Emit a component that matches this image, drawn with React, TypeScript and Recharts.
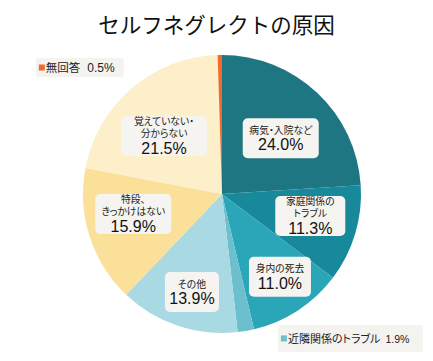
import React from "react";
import { PieChart, Pie, Cell } from "recharts";

const TITLE = "セルフネグレクトの原因";
const categories = [
  "病気・入院など",
  "家庭関係のトラブル",
  "身内の死去",
  "近隣関係のトラブル",
  "その他",
  "特段、きっかけはない",
  "覚えていない・分からない",
  "無回答",
];
const values = [24.0, 11.3, 11.0, 1.9, 13.9, 15.9, 21.5, 0.5];
const labelLines = [
  ["病気・入院など"],
  ["家庭関係の", "トラブル"],
  ["身内の死去"],
  ["近隣関係のトラブル"],
  ["その他"],
  ["特段、", "きっかけはない"],
  ["覚えていない・", "分からない"],
  ["無回答"],
];
const colors = ["#1f7683", "#17899b", "#2ba6b9", "#6cbfcc", "#a9d9e2", "#fbe09a", "#fdefca", "#f26b2a"];

const data = categories.map((name, i) => ({ name, value: values[i] }));

const FONT = "'Liberation Sans', 'Noto Sans CJK JP', sans-serif";
const PALT = { fontFeatureSettings: '"palt"' } as React.CSSProperties;
const RADIAN = Math.PI / 180;
// layout: label radius, angle nudge and box widths per slice (inside labels)
const labelRadius = [81, 91, 101, 0, 102.5, 91, 82];
const labelAngleNudge = [-3.3, 2.7, 1.9, 0, 1.5, -5.1, 4.5];
const boxWidth = [76, 70, 62, 0, 54, 76, 86];

const renderLabel = (props: any) => {
  const { cx, cy, midAngle, outerRadius, index } = props;
  const pct = values[index].toFixed(1) + "%";
  if (index === 3 || index === 7) {
    const ox = cx + outerRadius * Math.cos(-midAngle * RADIAN);
    const oy = cy + outerRadius * Math.sin(-midAngle * RADIAN);
    const isTop = index === 7;
    const w = isTop ? 88 : 145;
    const h = isTop ? 19 : 27;
    const bx = isTop ? ox - 184 : ox + 32;
    const by = isTop ? oy + 3 : oy - 6;
    return (
      <g key={"l" + index}>
        <rect x={bx} y={by} width={w} height={h} rx={3} fill="#f4f3ef" />
        <rect x={bx + 3} y={by + h / 2 - 3} width={6} height={6} fill={colors[index]} />
        <text x={bx + 10} y={by + h / 2 + 4.5} fontSize={isTop ? 11.5 : 11} fill="#222" fontFamily={FONT} style={PALT}>
          {labelLines[index][0]}
          <tspan dx={isTop ? 7 : 5} fontSize={isTop ? 12 : 10.5}>{pct}</tspan>
        </text>
      </g>
    );
  }
  const r = labelRadius[index];
  const ang = midAngle + labelAngleNudge[index];
  const x = cx + r * Math.cos(-ang * RADIAN);
  const y = cy + r * Math.sin(-ang * RADIAN);
  const w = boxWidth[index];
  const h = 40;
  const lines = labelLines[index];
  const twoSmall = lines.length === 2;
  return (
    <g key={"l" + index}>
      <rect x={x - w / 2} y={y - h / 2} width={w} height={h} rx={5} fill="#f5f4f0" />
      {lines.map((ln, j) => (
        <text
          key={j}
          x={x}
          y={twoSmall ? y - 11.5 + j * 12 : y - 4.5}
          textAnchor="middle"
          fontSize={9.8}
          fill="#222"
          fontFamily={FONT}
          style={PALT}
        >
          {ln}
        </text>
      ))}
      <text
        x={x}
        y={twoSmall ? y + 17.5 : y + 12}
        textAnchor="middle"
        fontSize={16}
        fill="#111"
        fontFamily={FONT}
      >
        {pct}
      </text>
    </g>
  );
};

export default function App() {
  return (
    <div style={{ position: "absolute", left: 0, top: 0, width: 433, height: 361, background: "#fff" }}>
      <div
        style={{
          position: "absolute",
          left: 0,
          top: 7,
          width: 433,
          textAlign: "center",
          fontFamily: "'Noto Sans CJK JP', sans-serif",
          fontSize: 21.5,
          fontWeight: 400,
          color: "#111",
          lineHeight: "34px",
        }}
      >
        {TITLE}
      </div>
      <PieChart width={433} height={361} style={{ position: "absolute", left: 0, top: 0 }}>
        <Pie
          data={data}
          dataKey="value"
          nameKey="name"
          cx={217}
          cy={189}
          outerRadius={139}
          startAngle={90}
          endAngle={-270}
          stroke="none"
          isAnimationActive={false}
          labelLine={false}
          label={renderLabel}
        >
          {data.map((_, i) => (
            <Cell key={i} fill={colors[i]} />
          ))}
        </Pie>
      </PieChart>
    </div>
  );
}
